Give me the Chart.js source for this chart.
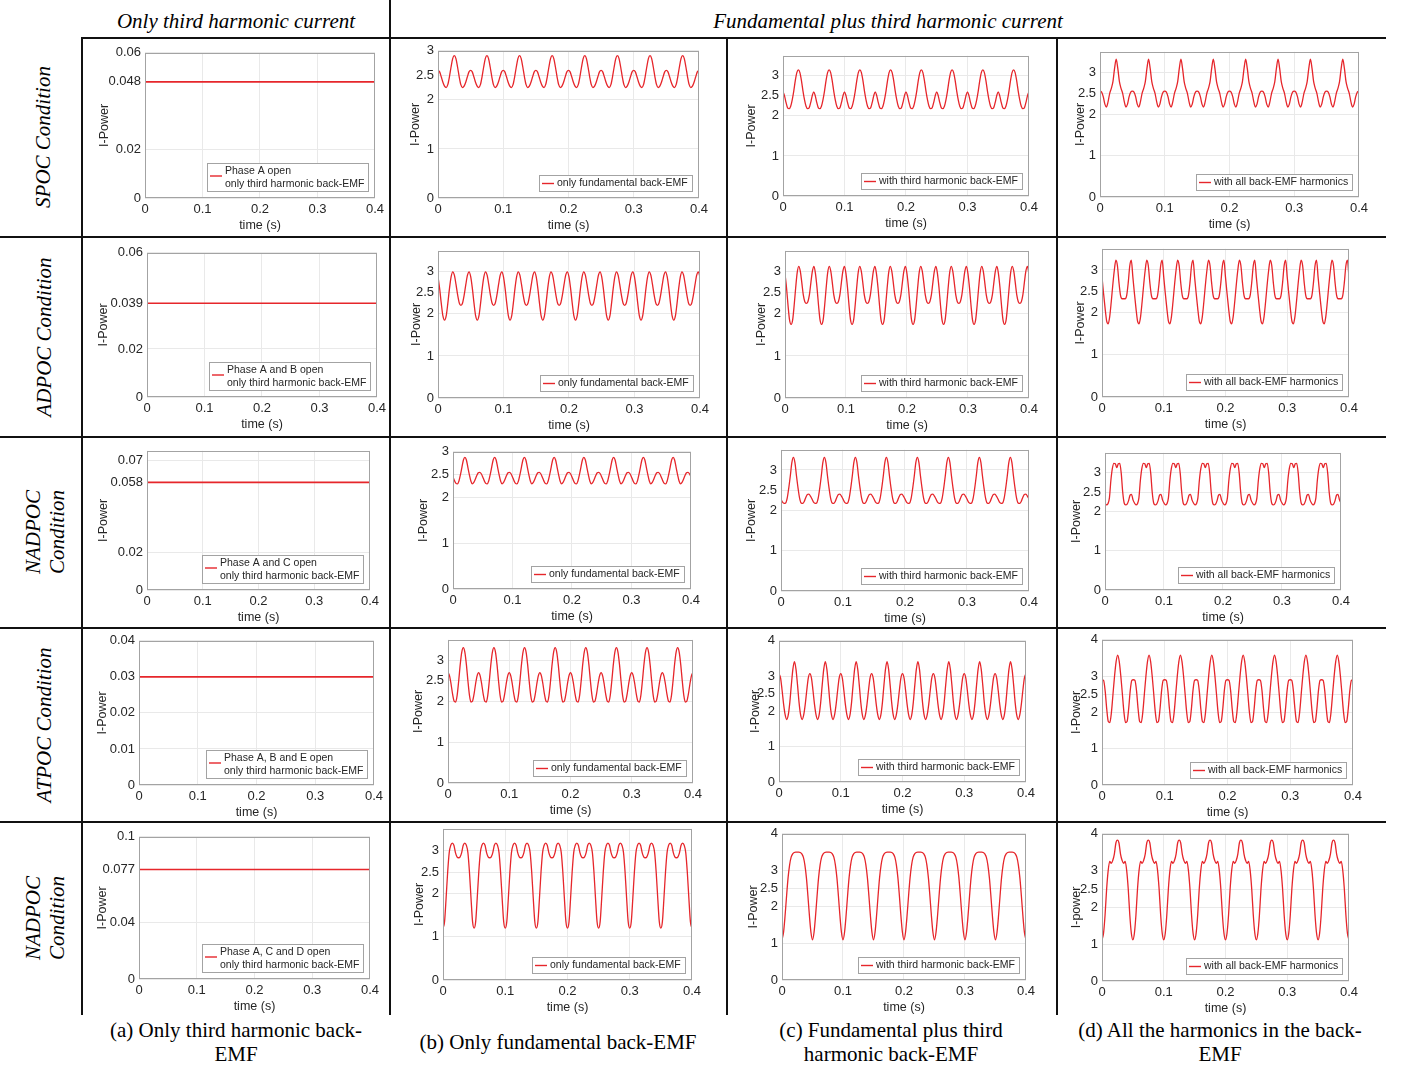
<!DOCTYPE html>
<html>
<head>
<meta charset="utf-8">
<title>I-Power under open-circuit conditions</title>
<script src="https://cdn.jsdelivr.net/npm/chart.js@4.4.0/dist/chart.umd.min.js"></script>
<style>
  body { margin:0; background:#fff; width:1401px; height:1069px; position:relative; overflow:hidden;
         font-family:"Liberation Serif","Times New Roman",serif; color:#000; }
  .ln { position:absolute; background:#111; }
  .t { position:absolute; white-space:nowrap; transform:translate(-50%,-50%); text-align:center; }
  .hdr { font-style:italic; font-size:21px; }
  .rowlab { font-style:italic; font-size:21px; line-height:24px; transform:translate(-50%,-50%) rotate(-90deg); }
  .cap { font-size:21px; line-height:24px; }
  canvas { position:absolute; }
</style>
</head>
<body>

<div class="t hdr" style="left:236px;top:21px">Only third harmonic current</div>
<div class="t hdr" style="left:888px;top:21px">Fundamental plus third harmonic current</div>

<div class="t rowlab" style="left:43px;top:137px">SPOC Condition</div>
<div class="t rowlab" style="left:44px;top:337px">ADPOC Condition</div>
<div class="t rowlab" style="left:45px;top:532px">NADPOC<br>Condition</div>
<div class="t rowlab" style="left:44px;top:725px">ATPOC Condition</div>
<div class="t rowlab" style="left:45px;top:918px">NADPOC<br>Condition</div>

<div class="t cap" style="left:236px;top:1042px">(a) Only third harmonic back-<br>EMF</div>
<div class="t cap" style="left:558px;top:1042px">(b) Only fundamental back-EMF</div>
<div class="t cap" style="left:891px;top:1042px">(c) Fundamental plus third<br>harmonic back-EMF</div>
<div class="t cap" style="left:1220px;top:1042px">(d) All the harmonics in the back-<br>EMF</div>

<!-- table rules -->
<div class="ln" style="left:82px;top:37px;width:1304px;height:2px"></div>
<div class="ln" style="left:0;top:236px;width:1386px;height:2px"></div>
<div class="ln" style="left:0;top:436px;width:1386px;height:2px"></div>
<div class="ln" style="left:0;top:627px;width:1386px;height:2px"></div>
<div class="ln" style="left:0;top:821px;width:1386px;height:2px"></div>
<div class="ln" style="left:81px;top:37px;width:2px;height:978px"></div>
<div class="ln" style="left:389px;top:0;width:2px;height:1015px"></div>
<div class="ln" style="left:726px;top:37px;width:2px;height:978px"></div>
<div class="ln" style="left:1056px;top:37px;width:2px;height:978px"></div>

<script>
// ---- data ----
const timeTicks = [0, 0.1, 0.2, 0.3, 0.4];
const cycleStarts = [0, 0.05, 0.1, 0.15, 0.2, 0.25, 0.3, 0.35];
const cycleOffsets = [0, 0.0025, 0.005, 0.0075, 0.01, 0.0125, 0.015, 0.0175, 0.02, 0.0225,
                      0.025, 0.0275, 0.03, 0.0325, 0.035, 0.0375, 0.04, 0.0425, 0.045, 0.0475];

const lowTicks = [0, 1, 2, 2.5, 3];
const highTicks = [0, 1, 2, 2.5, 3, 4];

// column (a): only third harmonic current, constant I-Power
const thirdOnlyLevel = [0.048, 0.039, 0.058, 0.03, 0.077];
const thirdOnlyMax = [0.06, 0.06, 0.075, 0.04, 0.1];
const thirdOnlyTicks = [
  [0, 0.02, 0.048, 0.06],
  [0, 0.02, 0.039, 0.06],
  [0, 0.02, 0.058, 0.07],
  [0, 0.01, 0.02, 0.03, 0.04],
  [0, 0.04, 0.077, 0.1]
];
const openPhases = ['Phase A open', 'Phase A and B open', 'Phase A and C open',
                    'Phase A, B and E open', 'Phase A, C and D open'];

// one 0.05 s cycle of I-Power, read at cycleOffsets (repeats 8 times in 0.4 s)
const spocFund  = [2.6, 2.57, 2.47, 2.36, 2.28, 2.25, 2.31, 2.47, 2.67, 2.84, 2.9, 2.84, 2.67, 2.47, 2.31, 2.25, 2.28, 2.36, 2.47, 2.57];
const spocThird = [2.6, 2.5, 2.33, 2.2, 2.18, 2.24, 2.4, 2.62, 2.88, 3.08, 3.15, 3.08, 2.88, 2.62, 2.4, 2.24, 2.18, 2.2, 2.33, 2.5];
const spocAll   = [2.55, 2.53, 2.42, 2.24, 2.17, 2.3, 2.5, 2.62, 2.78, 3.1, 3.32, 3.1, 2.78, 2.62, 2.5, 2.3, 2.17, 2.24, 2.42, 2.53];

const adpocFund  = [2.88, 2.6, 2.25, 1.95, 1.85, 1.95, 2.25, 2.6, 2.88, 3.0, 2.92, 2.7, 2.45, 2.26, 2.2, 2.26, 2.45, 2.7, 2.92, 3.0];
const adpocThird = [2.95, 2.62, 2.2, 1.85, 1.75, 1.85, 2.2, 2.62, 2.98, 3.13, 3.02, 2.75, 2.45, 2.29, 2.25, 2.29, 2.45, 2.75, 3.02, 3.13];
const adpocAll   = [2.83, 2.45, 2.1, 1.8, 1.73, 1.9, 2.25, 2.65, 3.0, 3.23, 3.1, 2.7, 2.4, 2.32, 2.32, 2.32, 2.4, 2.7, 3.1, 3.23];

const nadpocFund  = [2.45, 2.37, 2.31, 2.3, 2.36, 2.5, 2.66, 2.82, 2.88, 2.82, 2.66, 2.5, 2.36, 2.3, 2.33, 2.4, 2.48, 2.54, 2.55, 2.52];
const nadpocThird = [2.28, 2.2, 2.17, 2.18, 2.3, 2.55, 2.85, 3.18, 3.31, 3.18, 2.85, 2.55, 2.3, 2.18, 2.17, 2.22, 2.32, 2.39, 2.4, 2.35];
const nadpocAll   = [2.22, 2.17, 2.2, 2.35, 2.8, 3.1, 3.23, 3.22, 3.12, 3.22, 3.23, 2.98, 2.5, 2.22, 2.17, 2.19, 2.28, 2.42, 2.44, 2.3];

const atpocFund  = [2.7, 2.62, 2.42, 2.17, 2.0, 1.98, 2.15, 2.5, 2.9, 3.2, 3.31, 3.2, 2.9, 2.5, 2.15, 1.98, 2.0, 2.17, 2.42, 2.62];
const atpocThird = [3.07, 2.95, 2.6, 2.2, 1.9, 1.77, 1.9, 2.25, 2.75, 3.2, 3.41, 3.2, 2.75, 2.25, 1.9, 1.77, 1.9, 2.2, 2.6, 2.95];
const atpocAll   = [2.9, 2.88, 2.6, 2.1, 1.75, 1.72, 2.0, 2.5, 3.0, 3.4, 3.58, 3.4, 3.0, 2.5, 2.0, 1.72, 1.75, 2.1, 2.6, 2.88];

const nadpoc2Fund  = [1.2, 1.35, 1.9, 2.5, 2.95, 3.12, 3.17, 3.12, 2.95, 2.85, 2.83, 2.85, 2.95, 3.12, 3.17, 3.12, 2.95, 2.5, 1.9, 1.35];
const nadpoc2Third = [1.1, 1.3, 1.75, 2.3, 2.8, 3.15, 3.36, 3.45, 3.49, 3.5, 3.5, 3.5, 3.49, 3.45, 3.36, 3.15, 2.8, 2.3, 1.75, 1.3];
const nadpoc2All   = [1.12, 1.3, 1.8, 2.5, 3.0, 3.25, 3.2, 3.28, 3.45, 3.75, 3.83, 3.75, 3.45, 3.28, 3.2, 3.25, 3.0, 2.5, 1.8, 1.3];

const fundCycles  = [spocFund, adpocFund, nadpocFund, atpocFund, nadpoc2Fund];
const thirdCycles = [spocThird, adpocThird, nadpocThird, atpocThird, nadpoc2Third];
const allCycles   = [spocAll, adpocAll, nadpocAll, atpocAll, nadpoc2All];
const fundMax  = [3, 3.5, 3, 3.5, 3.5];
const thirdMax = [3.5, 3.5, 3.5, 4, 4];
const allMax   = [3.5, 3.5, 3.5, 4, 4];

// ---- layout: plot area [left, top, right, bottom, y-title x] per row / column ----
const plotBoxes = [
  [[145, 50, 376, 198, 105], [438, 48, 700, 198, 416], [783, 53, 1030, 196, 752], [1100, 49, 1360, 197, 1081]],
  [[147, 250, 378, 397, 104], [438, 248, 701, 398, 417], [785, 248, 1030, 398, 762], [1102, 246, 1350, 397, 1081]],
  [[147, 448, 371, 590, 104], [453, 449, 692, 589, 424], [781, 447, 1030, 591, 752], [1105, 450, 1342, 590, 1077]],
  [[139, 638, 375, 785, 103], [448, 637, 694, 783, 419], [779, 638, 1027, 782, 756], [1102, 637, 1354, 785, 1077]],
  [[139, 834, 371, 979, 103], [443, 826, 693, 980, 420], [782, 831, 1027, 980, 754], [1102, 831, 1350, 981, 1077]]
];

const RED = '#e6262b';
const GRID = '#e9e9e9';
const BOX = '#a3a3a3';
const INK = '#262626';
const SANS = '"Liberation Sans", Arial, Helvetica, sans-serif';

function cyclePoints(cycle) {
  const pts = [];
  cycleStarts.forEach(s => cycle.forEach((v, i) => pts.push({ x: s + cycleOffsets[i], y: v })));
  pts.push({ x: 0.4, y: cycle[0] });
  return pts;
}

const axesFrame = {
  id: 'axesFrame',
  afterDatasetsDraw(chart) {
    const a = chart.chartArea, ctx = chart.ctx;
    ctx.save();
    ctx.strokeStyle = BOX;
    ctx.lineWidth = 1;
    ctx.strokeRect(Math.round(a.left) + 0.5, Math.round(a.top) + 0.5,
                   Math.round(a.right - a.left) - 1, Math.round(a.bottom - a.top) - 1);
    ctx.restore();
  }
};

const boxLegend = {
  id: 'boxLegend',
  afterDraw(chart) {
    const ctx = chart.ctx, a = chart.chartArea;
    const lines = chart.data.datasets[0].label.split('\n');
    ctx.save();
    ctx.font = '10.5px ' + SANS;
    const tw = Math.max(...lines.map(s => ctx.measureText(s).width));
    const lh = 12.5;
    const w = Math.round(18 + tw + 4), h = Math.round(lines.length * lh + 3);
    const x = Math.round(a.right - 7 - w), y = Math.round(a.bottom - 7 - h);
    ctx.fillStyle = '#fff';
    ctx.fillRect(x, y, w, h);
    ctx.strokeStyle = BOX;
    ctx.lineWidth = 1;
    ctx.strokeRect(x + 0.5, y + 0.5, w, h);
    const sy = lines.length > 1 ? y + h / 2 - 1 : y + h / 2 + 0.5;
    ctx.strokeStyle = RED;
    ctx.lineWidth = 1.4;
    ctx.beginPath(); ctx.moveTo(x + 3, sy); ctx.lineTo(x + 15, sy); ctx.stroke();
    ctx.fillStyle = INK;
    ctx.textBaseline = 'middle';
    lines.forEach((s, i) => ctx.fillText(s, x + 18, y + 2 + lh * (i + 0.5)));
    ctx.restore();
  }
};

function addPanel(box, points, label, yMax, yTicks, yTitle, lineW) {
  const [L, T, R, B, tx] = box;
  const padTop = 9, padRight = 12, xH = 35;
  const left = Math.round(tx - 8);
  const top = T - padTop;
  const w = R + padRight - left;
  const h = B + xH - top;
  const c = document.createElement('canvas');
  c.width = w; c.height = h;
  c.style.left = left + 'px'; c.style.top = top + 'px';
  c.style.width = w + 'px'; c.style.height = h + 'px';
  document.body.appendChild(c);

  new Chart(c, {
    type: 'line',
    data: {
      datasets: [{
        label: label,
        data: points,
        borderColor: RED,
        borderWidth: lineW,
        pointRadius: 0,
        fill: false,
        cubicInterpolationMode: 'monotone'
      }]
    },
    options: {
      responsive: false,
      animation: false,
      layout: { padding: { top: padTop, right: padRight, left: 0, bottom: 0 } },
      plugins: { legend: { display: false }, tooltip: { enabled: false } },
      scales: {
        x: {
          type: 'linear', min: 0, max: 0.4,
          afterBuildTicks: s => { s.ticks = timeTicks.map(v => ({ value: v })); },
          afterFit: s => { s.height = xH; },
          grid: { color: GRID, drawTicks: false },
          border: { display: false },
          ticks: { autoSkip: false, maxRotation: 0, padding: 4, color: INK,
                   font: { family: SANS, size: 13 }, callback: v => String(v) },
          title: { display: true, text: 'time (s)', color: INK, padding: 0,
                   font: { family: SANS, size: 12.5 } }
        },
        y: {
          type: 'linear', min: 0, max: yMax,
          afterBuildTicks: s => { s.ticks = yTicks.map(v => ({ value: v })); },
          afterFit: s => { s.width = L - left; },
          grid: { color: GRID, drawTicks: false },
          border: { display: false },
          ticks: { autoSkip: false, padding: 4, color: INK,
                   font: { family: SANS, size: 13 }, callback: v => String(v) },
          title: { display: true, text: yTitle, color: INK, padding: 0,
                   font: { family: SANS, size: 12.5 } }
        }
      }
    },
    plugins: [axesFrame, boxLegend]
  });
}

for (let r = 0; r < 5; r++) {
  addPanel(plotBoxes[r][0],
           [{ x: 0, y: thirdOnlyLevel[r] }, { x: 0.4, y: thirdOnlyLevel[r] }],
           openPhases[r] + '\nonly third harmonic back-EMF',
           thirdOnlyMax[r], thirdOnlyTicks[r], 'I-Power', 1.6);
  addPanel(plotBoxes[r][1], cyclePoints(fundCycles[r]), 'only fundamental back-EMF',
           fundMax[r], lowTicks, 'I-Power', 1.3);
  addPanel(plotBoxes[r][2], cyclePoints(thirdCycles[r]), 'with third harmonic back-EMF',
           thirdMax[r], thirdMax[r] > 3.5 ? highTicks : lowTicks, 'I-Power', 1.3);
  addPanel(plotBoxes[r][3], cyclePoints(allCycles[r]), 'with all back-EMF harmonics',
           allMax[r], allMax[r] > 3.5 ? highTicks : lowTicks, r === 4 ? 'I-power' : 'I-Power', 1.3);
}
</script>
</body>
</html>
